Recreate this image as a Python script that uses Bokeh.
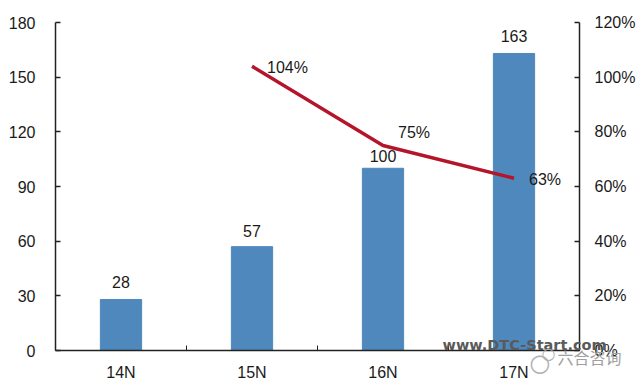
from bokeh.plotting import figure
from bokeh.embed import file_html
from bokeh.resources import INLINE
from bokeh.models import Range1d, LinearAxis, FixedTicker, Label
from bokeh.core.properties import value

cats = ["14N", "15N", "16N", "17N"]
bars = [28, 57, 100, 163]
rate_cats = ["15N", "16N", "17N"]
rates = [104, 75, 63]
left_ticks = [0, 30, 60, 90, 120, 150, 180]
right_ticks = [0, 20, 40, 60, 80, 100, 120]
FONT = "Liberation Sans"
INK = "#1a1a1a"

xpos = {c: i + 0.5 for i, c in enumerate(cats)}
bar_x = [xpos[c] for c in cats]
rate_x = [xpos[c] for c in rate_cats]

p = figure(width=640, height=386, frame_width=524, frame_height=328,
           x_range=Range1d(0, len(cats)), y_range=Range1d(0, 180),
           output_backend="svg", toolbar_location=None, min_border=0,
           min_border_left=55, min_border_right=61, min_border_top=22, min_border_bottom=0)
p.outline_line_color = None
p.grid.grid_line_color = None

p.vbar(x=bar_x, top=bars, width=0.315, color="#4F88BC")
p.extra_y_ranges = {"r": Range1d(0, 120)}
p.line(x=rate_x, y=rates, y_range_name="r", line_color="#B5152B", line_width=3.5)

xa = p.xaxis[0]
xa.ticker = FixedTicker(ticks=bar_x, minor_ticks=list(range(len(cats) + 1)))
xa.major_label_overrides = {xpos[c]: c for c in cats}
xa.major_tick_line_color = None
xa.minor_tick_line_color = "#222222"
xa.minor_tick_in = 5
xa.minor_tick_out = 0
xa.major_label_standoff = 7

ya = p.yaxis[0]
ya.ticker = FixedTicker(ticks=left_ticks)
ra = LinearAxis(y_range_name="r", ticker=FixedTicker(ticks=right_ticks))
ra.major_label_overrides = {t: f"{t}%" for t in right_ticks}
p.add_layout(ra, "right")

for a in [xa, ya, ra]:
    a.axis_line_color = "#222222"
    a.axis_line_width = 1.5
    a.major_label_text_font = FONT
    a.major_label_text_font_size = "16px"
    a.major_label_text_color = INK
for a in [ya, ra]:
    a.minor_tick_line_color = None
    a.major_tick_line_color = "#222222"
    a.major_tick_line_width = 1.5
    a.major_tick_in = 5
    a.major_tick_out = 0
    a.major_label_standoff = 15
ya.major_label_standoff = 20

bar_dy = [-11, -10, -6, -11]
for x, b, dy in zip(bar_x, bars, bar_dy):
    p.text(x=[x], y=[b], text=[str(b)], text_font=value(FONT), text_font_size="16px",
           text_color=INK, text_align="center", text_baseline="bottom", y_offset=dy)
rate_dy = [1, -13, 1]
for x, r, dy in zip(rate_x, rates, rate_dy):
    p.text(x=[x], y=[r], y_range_name="r", text=[f"{r}%"], text_font=value(FONT), text_font_size="16px",
           text_color=INK, text_align="left", text_baseline="middle", x_offset=15, y_offset=dy)

p.add_layout(Label(x=387, y=47, x_units="screen", y_units="screen", text="www.DTC-Start.com", level="overlay",
                   text_font="DejaVu Sans", text_font_size="14.5px", text_font_style="bold", text_color="#5a5a5a"), "below")
p.add_layout(Label(x=502, y=55, x_units="screen", y_units="screen", text="六合咨询", level="overlay",
                   text_font="Noto Sans CJK SC", text_font_size="16px", text_color="#a0a0a0"), "below")
p.add_layout(Label(x=474, y=75, x_units="screen", y_units="screen", text="○", level="overlay",
                   text_font="DejaVu Sans", text_font_size="24px", text_color="#b0b0b0"), "below")
p.add_layout(Label(x=486, y=108, x_units="screen", y_units="screen", text="○", level="overlay",
                   text_font="DejaVu Sans", text_font_size="16px", text_color="#b0b0b0"), "below")

open("out.html", "w").write(file_html(p, INLINE))
